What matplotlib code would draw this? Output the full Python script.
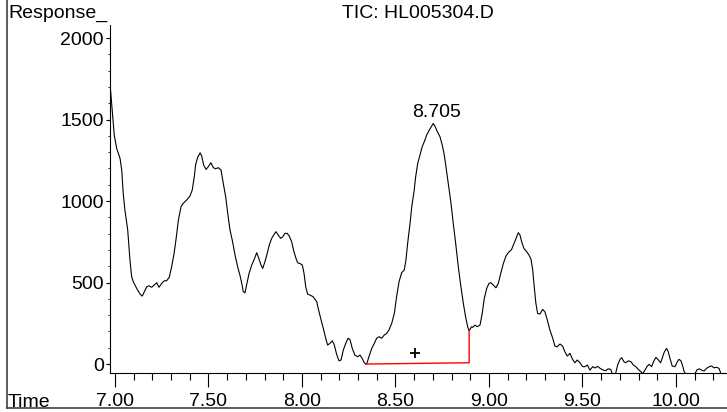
import matplotlib
matplotlib.use("Agg")
import matplotlib.pyplot as plt
from matplotlib.lines import Line2D
from matplotlib.ticker import MultipleLocator, FormatStrFormatter

plt.rcParams['font.family'] = ['Liberation Sans', 'DejaVu Sans']

# TIC trace (time in min, abundance)
times = [
    6.973, 6.982, 6.996, 7.009, 7.027, 7.036, 7.044, 7.053, 7.068, 7.080,
    7.089, 7.098, 7.116, 7.134, 7.146, 7.157, 7.170, 7.182, 7.196, 7.210,
    7.223, 7.235, 7.250, 7.264, 7.276, 7.290, 7.303, 7.316, 7.326, 7.339,
    7.353, 7.365, 7.383, 7.401, 7.413, 7.424, 7.431, 7.442, 7.455, 7.464,
    7.474, 7.487, 7.499, 7.513, 7.526, 7.538, 7.552, 7.567, 7.579, 7.592,
    7.603, 7.615, 7.627, 7.642, 7.656, 7.668, 7.678, 7.686, 7.695, 7.706,
    7.717, 7.731, 7.743, 7.758, 7.766, 7.781, 7.790, 7.802, 7.814, 7.825,
    7.838, 7.852, 7.861, 7.873, 7.886, 7.897, 7.909, 7.921, 7.932, 7.945,
    7.957, 7.968, 7.977, 7.989, 8.002, 8.011, 8.020, 8.030, 8.043, 8.060,
    8.079, 8.087, 8.100, 8.114, 8.127, 8.137, 8.150, 8.162, 8.173, 8.185,
    8.198, 8.209, 8.221, 8.234, 8.246, 8.257, 8.269, 8.283, 8.298, 8.310,
    8.322, 8.333, 8.346, 8.358, 8.373, 8.387, 8.399, 8.413, 8.426, 8.440,
    8.453, 8.465, 8.480, 8.494, 8.506, 8.519, 8.533, 8.547, 8.556, 8.565,
    8.578, 8.587, 8.599, 8.608, 8.619, 8.631, 8.643, 8.654, 8.667, 8.681,
    8.694, 8.702, 8.711, 8.724, 8.738, 8.750, 8.761, 8.770, 8.782, 8.797,
    8.809, 8.822, 8.836, 8.850, 8.863, 8.875, 8.886, 8.894, 8.907, 8.913,
    8.925, 8.937, 8.952, 8.964, 8.975, 8.988, 9.000, 9.011, 9.023, 9.037,
    9.050, 9.063, 9.077, 9.091, 9.103, 9.121, 9.134, 9.148, 9.157, 9.166,
    9.175, 9.187, 9.202, 9.214, 9.225, 9.234, 9.242, 9.251, 9.260, 9.273,
    9.287, 9.299, 9.312, 9.326, 9.341, 9.353, 9.365, 9.380, 9.394, 9.406,
    9.419, 9.433, 9.447, 9.460, 9.472, 9.487, 9.501, 9.513, 9.526, 9.540,
    9.555, 9.567, 9.581, 9.594, 9.611, 9.624, 9.638, 9.651, 9.660, 9.677,
    9.688, 9.701, 9.710, 9.722, 9.731, 9.746, 9.760, 9.772, 9.785, 9.799,
    9.813, 9.822, 9.834, 9.847, 9.857, 9.870, 9.882, 9.893, 9.906, 9.918,
    9.929, 9.938, 9.950, 9.959, 9.968, 9.980, 9.995, 10.007, 10.016, 10.027,
    10.036, 10.044, 10.052, 10.102, 10.111, 10.123, 10.137, 10.150, 10.164, 10.178,
    10.191, 10.203, 10.217, 10.230, 10.241,
]
response = [
    1724, 1599, 1405, 1323, 1262, 1190, 1047, 945, 822, 638,
    536, 505, 464, 429, 417, 444, 474, 480, 471, 485,
    499, 471, 495, 511, 511, 532, 597, 679, 761, 883,
    965, 986, 1006, 1031, 1067, 1149, 1221, 1268, 1296, 1276,
    1221, 1194, 1211, 1235, 1205, 1198, 1205, 1190, 1109, 1026,
    924, 822, 761, 669, 597, 546, 495, 444, 437, 495,
    556, 607, 638, 683, 658, 607, 587, 628, 679, 730,
    771, 798, 812, 791, 771, 781, 802, 802, 785, 750,
    689, 648, 621, 617, 607, 556, 474, 429, 423, 413,
    382, 341, 280, 219, 158, 117, 127, 143, 117, 61,
    20, 25, 86, 127, 158, 150, 96, 55, 45, 55,
    35, 8, 0, 45, 96, 127, 158, 168, 158, 178,
    188, 209, 250, 311, 413, 505, 560, 577, 638, 740,
    863, 965, 1057, 1149, 1231, 1282, 1333, 1364, 1405, 1436,
    1460, 1476, 1460, 1425, 1395, 1344, 1282, 1211, 1109, 986,
    863, 740, 597, 474, 372, 290, 229, 204, 229, 225,
    239, 229, 239, 311, 403, 464, 495, 499, 485, 468,
    495, 556, 617, 663, 683, 703, 740, 781, 806, 791,
    750, 709, 689, 669, 642, 577, 474, 372, 311, 307,
    335, 321, 270, 209, 158, 110, 106, 123, 110, 75,
    49, 66, 29, 8, 25, 8, -16, -16, -6, -37,
    -16, -24, -14, -26, -37, -41, -29, -33, -60, -60,
    -6, 29, 39, 14, 8, 20, 14, -6, -16, -33,
    -47, -60, -37, -12, -2, -16, 20, 41, 25, 8,
    45, 75, 96, 75, 35, -12, -16, 14, 29, 20,
    -12, -47, -60, -60, -37, -29, -37, -43, -26, -16,
    -12, -23, -20, -26, -60,
]

# integrated peak: baseline and apex
base_t = [8.341, 8.894, 8.894]
base_v = [0, 8, 204]
apex_t = 8.705
apex_v = 1476
mark_t = 8.603
mark_v = 69

fig = plt.figure(figsize=(7.27, 4.12), dpi=100)
ax = fig.add_axes([110 / 727, 39.3 / 412, 617 / 727, 347.7 / 412])

ax.plot(times, response, color='black', linewidth=0.8)
ax.plot(base_t, base_v, color='#ff0000', linewidth=1.0)
ax.plot([mark_t], [mark_v], marker='+', color='black', markersize=7.5, mew=1.3)
ax.annotate(f'{apex_t:.3f}', (apex_t, apex_v), xytext=(2, 5), textcoords='offset points',
            ha='center', va='baseline', fontsize=14)

ax.set_xlim(6.9733, 10.273)
ax.set_ylim(-53, 2080)

for side in ['top', 'right']:
    ax.spines[side].set_visible(False)
for side in ['left', 'bottom']:
    ax.spines[side].set_linewidth(0.8)

ax.xaxis.set_major_locator(MultipleLocator(0.5))
ax.xaxis.set_minor_locator(MultipleLocator(0.1))
ax.xaxis.set_major_formatter(FormatStrFormatter('%.2f'))
ax.yaxis.set_major_locator(MultipleLocator(500))
ax.yaxis.set_minor_locator(MultipleLocator(100))

ax.tick_params(axis='x', which='major', length=10, width=0.8, pad=4.5, labelsize=14)
ax.tick_params(axis='x', which='minor', length=5, width=0.8)
ax.tick_params(axis='y', which='major', length=3, width=0.8, pad=1.5, labelsize=14)
ax.tick_params(axis='y', which='minor', length=1.8, width=0.6)

fig.text(8 / 727, 1 - 18.3 / 412, 'Response_', fontsize=14, va='baseline', ha='left')
fig.text(418 / 727, 1 - 17.5 / 412, 'TIC: HL005304.D', fontsize=14, va='baseline', ha='center')
fig.text(8 / 727, 1 - 407 / 412, 'Time', fontsize=14, va='baseline', ha='left')

# frame around the plot (left and bottom edges show)
fig.add_artist(Line2D([6.5 / 727, 6.5 / 727], [1, 1 - 408 / 412], color='#404040', linewidth=1.2))
fig.add_artist(Line2D([6.5 / 727, 1], [1 - 408 / 412, 1 - 408 / 412], color='#404040', linewidth=1.2))

fig.savefig('out.png', dpi=100)
